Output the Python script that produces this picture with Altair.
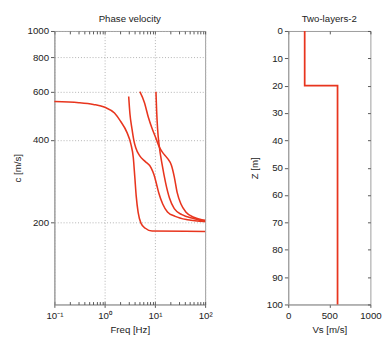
import altair as alt
import pandas as pd

# ---- data ----
# dispersion curves (frequency in Hz, phase velocity in m/s)
mode0_f = [0.1, 0.308, 0.597, 1.01, 1.57, 2.05, 2.79, 3.33, 3.72, 3.98, 4.25, 4.64, 5.30, 6.46, 8.8, 100]
mode0_c = [552, 547, 539, 526, 501, 469, 425, 386, 344, 293, 249, 217, 198, 190, 185.5, 185]

mode1_f = [3.01, 3.19, 3.49, 3.80, 4.16, 4.96, 6.46, 8.41, 9.6, 10.7, 12.0, 14.3, 17.8, 25.4, 45, 100]
mode1_c = [576, 497, 440, 399, 374, 350, 333, 316, 298, 277, 255, 233, 218, 210, 204, 201]

mode2_f = [5.02, 6.18, 7.38, 8.8, 10.5, 12.2, 14.3, 17.8, 21.3, 24.3, 27.7, 33.0, 41.2, 61.3, 100]
mode2_c = [600, 548, 485, 440, 405, 377, 359, 342, 323, 293, 257, 233, 218, 208, 203]

mode3_f = [10.5, 10.8, 11.3, 12.2, 14.0, 16.3, 19.5, 24.3, 34.5, 61.3, 100]
mode3_c = [600, 517, 440, 380, 323, 279, 245, 224, 213, 206, 201]

# velocity profile
profile_vs = [200, 200, 600, 600]
profile_z = [0, 20, 20, 100]

# axis tick values
freq_major = [0.1, 1, 10, 100]
freq_all = [0.1, 0.2, 0.3, 0.4, 0.5, 0.6, 0.7, 0.8, 0.9,
            1, 2, 3, 4, 5, 6, 7, 8, 9,
            10, 20, 30, 40, 50, 60, 70, 80, 90, 100]
c_ticks = [200, 400, 600, 800, 1000]
vs_ticks = [0, 500, 1000]
z_ticks = [0, 10, 20, 30, 40, 50, 60, 70, 80, 90, 100]

# ---- build tables ----
rows = []
for name, fs, cs in [("m0", mode0_f, mode0_c), ("m1", mode1_f, mode1_c),
                     ("m2", mode2_f, mode2_c), ("m3", mode3_f, mode3_c)]:
    for i, (f, c) in enumerate(zip(fs, cs)):
        rows.append({"mode": name, "f": f, "c": c, "i": i})
curves = pd.DataFrame(rows)
prof = pd.DataFrame({"vs": profile_vs, "z": profile_z, "i": list(range(len(profile_vs)))})

LINE = "#e8351e"
FONT = "Liberation Sans"
TICK = "#555555"
GRID = "#b0b0b0"
H = 283

xscale = alt.Scale(type="log", domain=[0.1, 100])
yscale = alt.Scale(type="log", domain=[100, 1000])

xlab = ("datum.value < 0.5 ? '10⁻¹' : datum.value < 5 ? '10⁰' : "
        "datum.value < 50 ? '10¹' : '10²'")

left_main = alt.Chart(curves).mark_line(color=LINE, strokeWidth=1.6, interpolate="monotone").encode(
    x=alt.X("f:Q", scale=xscale,
            axis=alt.Axis(values=freq_major, labelExpr=xlab, title="Freq [Hz]",
                          grid=True, gridDash=[1, 2], gridColor=GRID,
                          tickSize=3, labelPadding=4, titlePadding=4, labelFlush=False)),
    y=alt.Y("c:Q", scale=yscale,
            axis=alt.Axis(values=c_ticks, format="d", title="c [m/s]", grid=True, gridDash=[1, 2],
                          gridColor=GRID, tickSize=4, labelPadding=2, titlePadding=5)),
    detail="mode:N",
    order="i:Q",
)

left_top = alt.Chart(curves).mark_line(opacity=0).encode(
    x=alt.X("f:Q", scale=xscale,
            axis=alt.Axis(orient="top", values=freq_all, labels=False, title=None,
                          tickSize=3, offset=-3, domain=False, grid=False)),
    y=alt.Y("c:Q", scale=yscale, axis=None),
    detail="mode:N",
)

left_bottom = alt.Chart(curves).mark_line(opacity=0).encode(
    x=alt.X("f:Q", scale=xscale,
            axis=alt.Axis(orient="bottom", values=freq_all, labels=False, title=None,
                          tickSize=3, offset=-3, domain=False, grid=False)),
    y=alt.Y("c:Q", scale=yscale, axis=None),
    detail="mode:N",
)

left = alt.layer(left_main, left_top, left_bottom).resolve_axis(
    x="independent", y="independent").properties(
    width=156, height=H,
    title=alt.TitleParams("Phase velocity", anchor="middle", frame="group"),
)

zscale = alt.Scale(domain=[0, 100], reverse=True)
vscale = alt.Scale(domain=[0, 1000])

right_main = alt.Chart(prof).mark_line(color=LINE, strokeWidth=1.8).encode(
    x=alt.X("vs:Q", scale=vscale,
            axis=alt.Axis(values=vs_ticks, format="d", title="Vs [m/s]", grid=False, tickSize=3,
                          labelPadding=4, titlePadding=4, labelFlush=False)),
    y=alt.Y("z:Q", scale=zscale,
            axis=alt.Axis(values=z_ticks, title="Z [m]", grid=False, tickSize=4,
                          labelPadding=2, titlePadding=7)),
    order="i:Q",
)

right_top = alt.Chart(prof).mark_line(opacity=0).encode(
    x=alt.X("vs:Q", scale=vscale,
            axis=alt.Axis(orient="top", values=vs_ticks, labels=False, title=None,
                          tickSize=3, offset=-3, domain=False, grid=False)),
    y=alt.Y("z:Q", scale=zscale, axis=None),
)

right_right = alt.Chart(prof).mark_line(opacity=0).encode(
    x=alt.X("vs:Q", scale=vscale, axis=None),
    y=alt.Y("z:Q", scale=zscale,
            axis=alt.Axis(orient="right", values=z_ticks, labels=False, title=None,
                          tickSize=3, offset=-3, domain=False, grid=False)),
)

right = alt.layer(right_main, right_top, right_right).resolve_axis(
    x="independent", y="independent").properties(
    width=85, height=H,
    title=alt.TitleParams("Two-layers-2", anchor="middle", frame="group"),
)

chart = alt.hconcat(left, right, spacing=37).properties(
    padding={"left": 4, "top": 0, "right": 0, "bottom": 0}
).configure_view(
    stroke="#9a9a9a", strokeWidth=1
).configure_axis(
    labelFont=FONT, titleFont=FONT, labelFontSize=10, titleFontSize=10,
    titleFontWeight="normal", labelColor="#222222", titleColor="#222222",
    domainColor="#9a9a9a", tickColor=TICK,
).configure_title(
    font=FONT, fontSize=10, fontWeight="normal", color="#222222", offset=2
)

chart.save("out.html", embed_options={"renderer": "svg", "actions": False})
